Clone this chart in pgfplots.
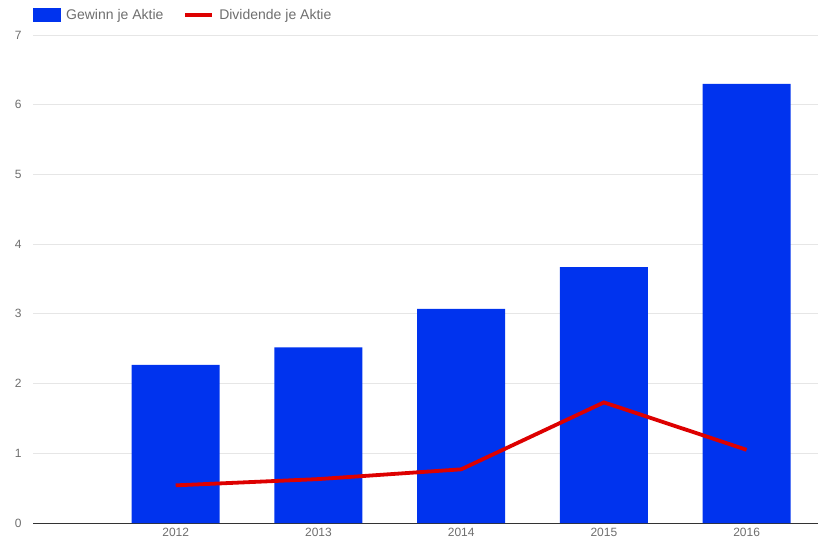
\documentclass[border=0pt]{standalone}
\usepackage{pgfplots}
\pgfplotsset{compat=1.18}
\usepackage{fontspec}
\setmainfont{Liberation Sans}
\definecolor{barblue}{HTML}{0033EE}
\definecolor{linered}{HTML}{DD0000}
\definecolor{gridgray}{HTML}{E6E6E6}
\definecolor{txtgray}{HTML}{6E6E6E}
\definecolor{axgray}{HTML}{333333}
\begin{document}
\begin{tikzpicture}
\useasboundingbox (0pt,0pt) rectangle (834pt,547pt);
\begin{axis}[
  at={(33pt,24pt)}, anchor=south west,
  scale only axis, width=785pt, height=488pt,
  xmin=2011, xmax=2016.5,
  ymin=0, ymax=7,
  xtick={2012,2013,2014,2015,2016},
  xticklabels={2012,2013,2014,2015,2016},
  ytick={0,1,2,3,4,5,6,7},
  /pgf/number format/assume math mode=true,
  ymajorgrids, grid style={gridgray, line width=1pt},
  axis x line*=bottom, axis y line*=left,
  x axis line style={axgray, line width=1pt, -},
  y axis line style={draw=none},
  major tick length=0pt,
  xticklabel style={font=\fontsize{12}{14}\selectfont, text=txtgray, yshift=-2pt},
  yticklabel style={font=\fontsize{12}{14}\selectfont, text=txtgray, anchor=east, xshift=-8pt},
  clip=false,
  legend style={at={(0,1)}, anchor=south west, yshift=12pt, draw=none, fill=none,
    font=\fontsize{14}{16}\selectfont, text=txtgray, inner sep=0pt,
    /tikz/every even column/.append style={column sep=18pt}},
  legend columns=2,
  legend cell align=left,
]
\addplot[ybar, bar width=88pt, fill=barblue, draw=none,
  legend image code/.code={\fill[barblue] (0pt,-7pt) rectangle (28pt,7pt);\path (31pt,0pt);}]
  coordinates {(2012,2.27) (2013,2.52) (2014,3.07) (2015,3.67) (2016,6.30)};
\addlegendentry{Gewinn je Aktie}
\addplot[sharp plot, linered, line width=3.8pt, mark=none,
  legend image code/.code={\draw[linered, line width=3.8pt] (0pt,0pt) -- (27pt,0pt);\path (30pt,0pt);}]
  coordinates {(2012,0.54) (2013,0.63) (2014,0.77) (2015,1.73) (2016,1.05)};
\addlegendentry{Dividende je Aktie}
\end{axis}
\end{tikzpicture}
\end{document}
